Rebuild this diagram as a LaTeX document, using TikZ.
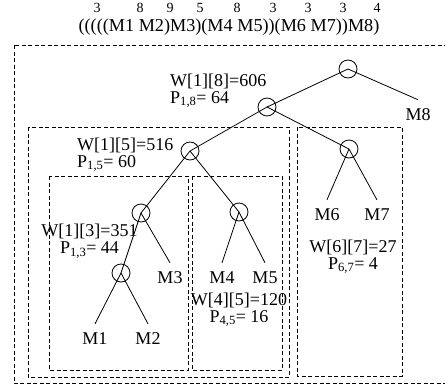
\documentclass[tikz,border=0pt]{standalone}
\usepackage{fontspec}
\setmainfont{Liberation Serif}
\usetikzlibrary{positioning}

\begin{document}
\begin{tikzpicture}[
	x=1pt, y=-1pt,
	op/.style={circle, draw, minimum size=18pt, inner sep=0pt, line width=0.8pt},
	leaf/.style={inner sep=9pt, font=\fontsize{18}{20}\selectfont},
	cost/.style={inner sep=0pt, font=\fontsize{18}{16}\selectfont},
	dim/.style={inner sep=0pt, font=\fontsize{14}{16}\selectfont},
	part/.style={draw, dash pattern=on 4pt off 2.5pt, line width=0.7pt},
	edge/.style={draw, line width=0.8pt},
	]
	\useasboundingbox (0,0) rectangle (445,391);
	
	% matrix dimensions and parenthesization
	\foreach \x/\d [count=\i] in {97/3, 140/8, 170/9, 200/5, 237/8, 273/3, 308/3, 343/3, 377/4}
		\node[dim] (d\i) at (\x,8) {\d};
	\node[cost, font=\fontsize{18.2}{20}\selectfont] (expr) at (229,27) {(((((M1 M2)M3)(M4 M5))(M6 M7))M8)};
	
	% partitions
	\draw[part] (14,45) rectangle (452,383);
	\draw[part] (28,127) rectangle (289,377);
	\draw[part] (297,127) rectangle (402,376);
	\draw[part] (49,176) rectangle (188,370);
	\draw[part] (192,176) rectangle (282,370);
	
	% products
	\node[op] (r18) at (348,69) {};
	\node[op] (r17) at (267,107) {};
	\node[op] (r15) at (190,151) {};
	\node[op] (r67) at (349,149) {};
	\node[op] (r13) at (141,213) {};
	\node[op] (r45) at (239,212) {};
	\node[op] (r12) at (121,273) {};
	
	% matrices
	\node[leaf] (m1) at (95,339) {M1};
	\node[leaf] (m2) at (148,339) {M2};
	\node[leaf] (m3) at (170,278) {M3};
	\node[leaf] (m4) at (222,278) {M4};
	\node[leaf] (m5) at (265,278) {M5};
	\node[leaf] (m6) at (327,215) {M6};
	\node[leaf] (m7) at (377,215) {M7};
	\node[leaf] (m8) at (418,115) {M8};
	
	\draw[edge] (r18.center) -- (r17.center);
	\draw[edge] (r18.center) -- (m8.north);
	\draw[edge] (r17.center) -- (r15.center);
	\draw[edge] (r17.center) -- (r67.center);
	\draw[edge] (r15.center) -- (r13.center);
	\draw[edge] (r15.center) -- (r45.center);
	\draw[edge] (r13.center) -- (r12.center);
	\draw[edge] (r13.center) -- (m3.north);
	\draw[edge] (r12.center) -- (m1.north);
	\draw[edge] (r12.center) -- (m2.north);
	\draw[edge] (r45.center) -- (m4.north);
	\draw[edge] (r45.center) -- (m5.north);
	\draw[edge] (r67.center) -- (m6.north);
	\draw[edge] (r67.center) -- (m7.north);
	
	% costs
	\node[cost, anchor=north west, align=left] (c18) at (170,73.5) {W[1][8]=606\\[1pt]P\textsubscript{1,8}= 64};
	\node[cost, anchor=north west, align=left] (c15) at (77,137.5) {W[1][5]=516\\[1pt]P\textsubscript{1,5}= 60};
	\node[cost, anchor=north, align=center] (c13) at (89.5,224) {W[1][3]=351\\[1pt]P\textsubscript{1,3}= 44};
	\node[cost, anchor=north, align=center] (c45) at (239,292.5) {W[4][5]=120\\[1pt]P\textsubscript{4,5}= 16};
	\node[cost, anchor=north, align=center] (c67) at (353,239.5) {W[6][7]=27\\[1pt]P\textsubscript{6,7}= 4};
	
\end{tikzpicture}
\end{document}
